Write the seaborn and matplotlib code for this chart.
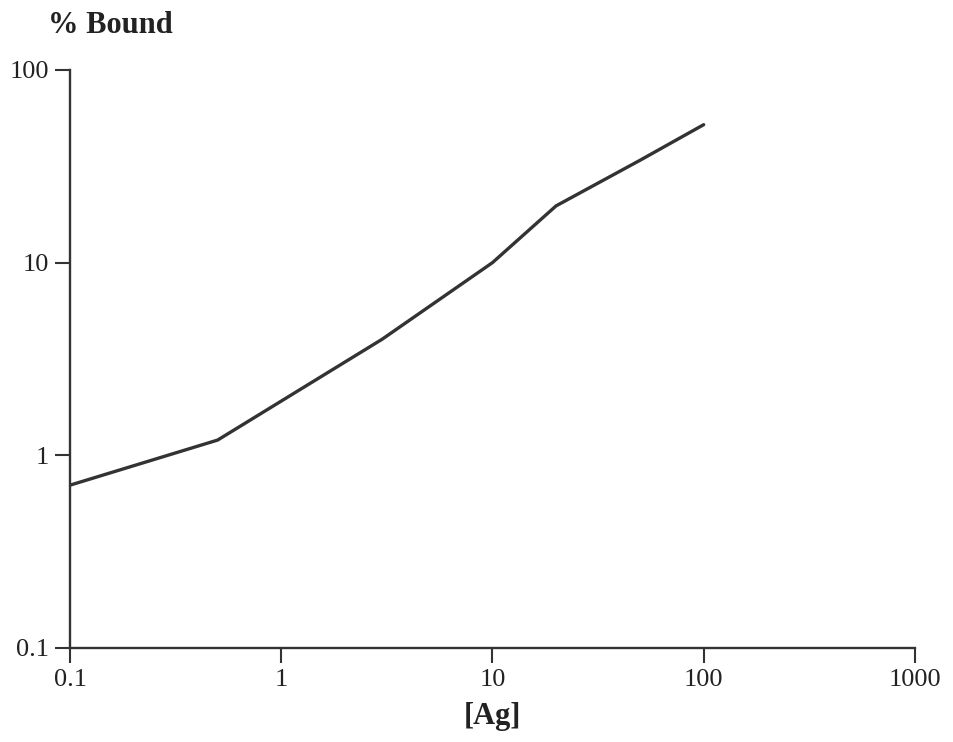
import matplotlib
matplotlib.use("Agg")
import matplotlib.pyplot as plt
import matplotlib.ticker as mticker
import seaborn as sns
import pandas as pd

# data
ag = [0.1, 0.5, 3, 10, 20, 50, 100]
bound = [0.7, 1.2, 4.0, 10, 19.7, 34, 52]
x_ticks = [0.1, 1, 10, 100, 1000]
x_labels = ["0.1", "1", "10", "100", "1000"]
y_ticks = [0.1, 1, 10, 100]
y_labels = ["0.1", "1", "10", "100"]

df = pd.DataFrame({"ag": ag, "bound": bound})

sns.set_style("ticks")
plt.rcParams["font.family"] = ["Liberation Serif", "DejaVu Serif"]

fig = plt.figure(figsize=(9.54, 7.42), dpi=100)
ax = fig.add_axes([0.0734, 0.1267, 0.8856, 0.779])

sns.lineplot(data=df, x="ag", y="bound", ax=ax, color="#333333", linewidth=2.4)

ax.set_xscale("log")
ax.set_yscale("log")
ax.set_xlim(0.1, 1000)
ax.set_ylim(0.1, 100)
ax.set_xticks(x_ticks)
ax.set_xticklabels(x_labels)
ax.set_yticks(y_ticks)
ax.set_yticklabels(y_labels)
ax.xaxis.set_minor_locator(mticker.NullLocator())
ax.yaxis.set_minor_locator(mticker.NullLocator())

ax.tick_params(axis="both", length=11, width=1.5, color="#333333",
               labelsize=19, labelcolor="#222222", pad=4)

for side in ["top", "right"]:
    ax.spines[side].set_visible(False)
for side in ["left", "bottom"]:
    ax.spines[side].set_linewidth(1.7)
    ax.spines[side].set_color("#333333")

ax.set_xlabel("[Ag]", fontsize=22, fontweight="bold", color="#222222", labelpad=8)
ax.set_ylabel("")
fig.text(0.05, 0.966, "% Bound", fontsize=22, fontweight="bold", color="#222222",
         ha="left", va="center")

fig.savefig("out.png", dpi=100)
